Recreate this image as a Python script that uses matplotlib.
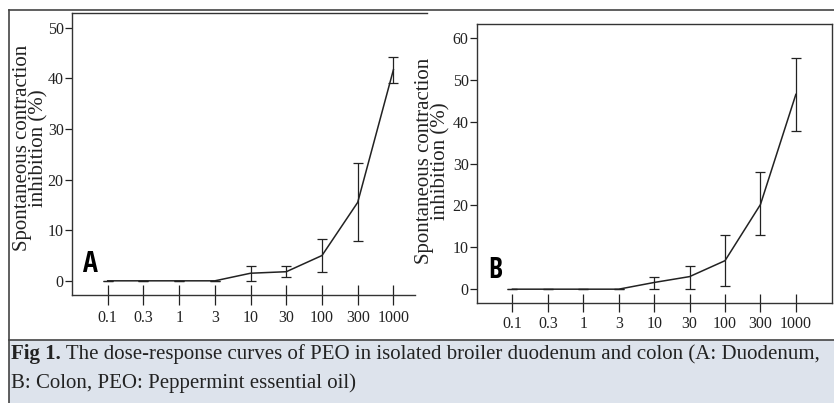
import matplotlib
matplotlib.use("Agg")
import matplotlib.pyplot as plt
from matplotlib.patches import Rectangle
from matplotlib.lines import Line2D

# ---------------- data ----------------
doses = ["0.1", "0.3", "1", "3", "10", "30", "100", "300", "1000"]

a_mean = [0, 0, 0, 0, 1.5, 1.8, 5.0, 15.5, 41.7]
a_upper = [0, 0, 0, 0, 3.0, 3.0, 8.2, 23.3, 44.2]
a_lower = [0, 0, 0, 0, 0.0, 0.7, 1.8, 7.9, 39.1]
a_yticks = [0, 10, 20, 30, 40, 50]

b_mean = [0, 0, 0, 0, 1.6, 3.0, 6.8, 20.2, 46.5]
b_upper = [0, 0, 0, 0, 2.8, 5.6, 13.0, 28.0, 55.2]
b_lower = [0, 0, 0, 0, 0.0, 0.15, 0.8, 12.9, 37.8]
b_yticks = [0, 10, 20, 30, 40, 50, 60]

ylabel = "Spontaneous contraction\ninhibition (%)"
caption_bold = "Fig 1."
caption_rest1 = " The dose-response curves of PEO in isolated broiler duodenum and colon (A: Duodenum,"
caption_line2 = "B: Colon, PEO: Peppermint essential oil)"

# ---------------- figure ----------------
W, H = 834, 403
fig = plt.figure(figsize=(W / 100, H / 100), dpi=100)
fig.patch.set_facecolor("white")

def rect(l, t, r, b):
    return [l / W, 1 - b / H, (r - l) / W, (b - t) / H]

def fx(x):
    return x / W

def fy(y):
    return 1 - y / H

SERIF = ["Liberation Serif", "DejaVu Serif"]
LETTER_FONT = ["Open Sans Condensed", "Roboto Condensed", "Liberation Sans Narrow",
               "Roboto", "DejaVu Sans"]
INK = "#222222"

# caption box and outer frame
fig.patches.append(Rectangle((fx(9), 0), 1 - fx(9), fy(340), transform=fig.transFigure,
                             facecolor="#dde3ec", edgecolor="none", zorder=0))
fig.lines.append(Line2D([fx(9), 1], [fy(340), fy(340)], transform=fig.transFigure,
                        color="#444444", lw=1.2))
fig.lines.append(Line2D([fx(9), 1], [fy(10), fy(10)], transform=fig.transFigure,
                        color="#444444", lw=1.2))
fig.lines.append(Line2D([fx(9), fx(9)], [0, fy(10)], transform=fig.transFigure,
                        color="#444444", lw=1.2))


def panel(box, xlim, ylim, yticks, mean, lower, upper, letter, letter_xy,
          right_spine=True, bottom_end=None, tick_len=15):
    ax = fig.add_axes(rect(*box))
    ax.set_facecolor("none")
    x = list(range(len(doses)))
    yerr = [[m - lo for m, lo in zip(mean, lower)], [u - m for m, u in zip(mean, upper)]]
    ax.errorbar(x, mean, yerr=yerr, color=INK, lw=1.1, elinewidth=0.9,
                capsize=3.6, capthick=0.9)
    ax.set_xlim(*xlim)
    ax.set_ylim(*ylim)
    ax.set_xticks(x)
    ax.set_xticklabels(doses)
    ax.set_yticks(yticks)
    ax.tick_params(axis="x", direction="inout", length=tick_len, width=0.9,
                   colors=INK, pad=3, labelsize=11.5)
    ax.tick_params(axis="y", direction="out", length=5, width=0.9,
                   colors=INK, pad=1, labelsize=11.5)
    for lab in ax.get_xticklabels() + ax.get_yticklabels():
        lab.set_fontfamily(SERIF)
    for s in ax.spines.values():
        s.set_color("#333333")
        s.set_linewidth(1.0)
    if not right_spine:
        ax.spines["right"].set_visible(False)
    if bottom_end is not None:
        ax.spines["bottom"].set_bounds(xlim[0], bottom_end)
    fig.text(fx(letter_xy[0]), fy(letter_xy[1]), letter, ha="left", va="baseline",
             fontsize=20, fontweight="bold", color="black", family=LETTER_FONT)
    return ax


panel((72, 13, 427, 295), (-1.0, 8.94), (-2.8, 52.9), a_yticks,
      a_mean, a_lower, a_upper, "A", (83, 272), right_spine=False, bottom_end=8.61)
panel((477, 24, 832, 303), (-1.0, 9.02), (-3.3, 63.3), b_yticks,
      b_mean, b_lower, b_upper, "B", (488, 278), tick_len=13)

fig.text(fx(31), fy(148), ylabel, rotation=90, ha="center", va="center",
         multialignment="center", fontsize=15, linespacing=0.82,
         family=SERIF, color=INK)
fig.text(fx(433), fy(161), ylabel, rotation=90, ha="center", va="center",
         multialignment="center", fontsize=15, linespacing=0.82,
         family=SERIF, color=INK)

# caption
CAP = 15
t1 = fig.text(fx(11), fy(359), caption_bold, ha="left", va="baseline",
              fontsize=CAP, fontweight="bold", family=SERIF, color=INK)
fig.canvas.draw()
bb = t1.get_window_extent()
fig.text(bb.x1 / W, fy(359), caption_rest1, ha="left", va="baseline",
         fontsize=CAP, family=SERIF, color=INK)
fig.text(fx(11), fy(388), caption_line2, ha="left", va="baseline",
         fontsize=CAP, family=SERIF, color=INK)

fig.savefig("out.png", dpi=100)
